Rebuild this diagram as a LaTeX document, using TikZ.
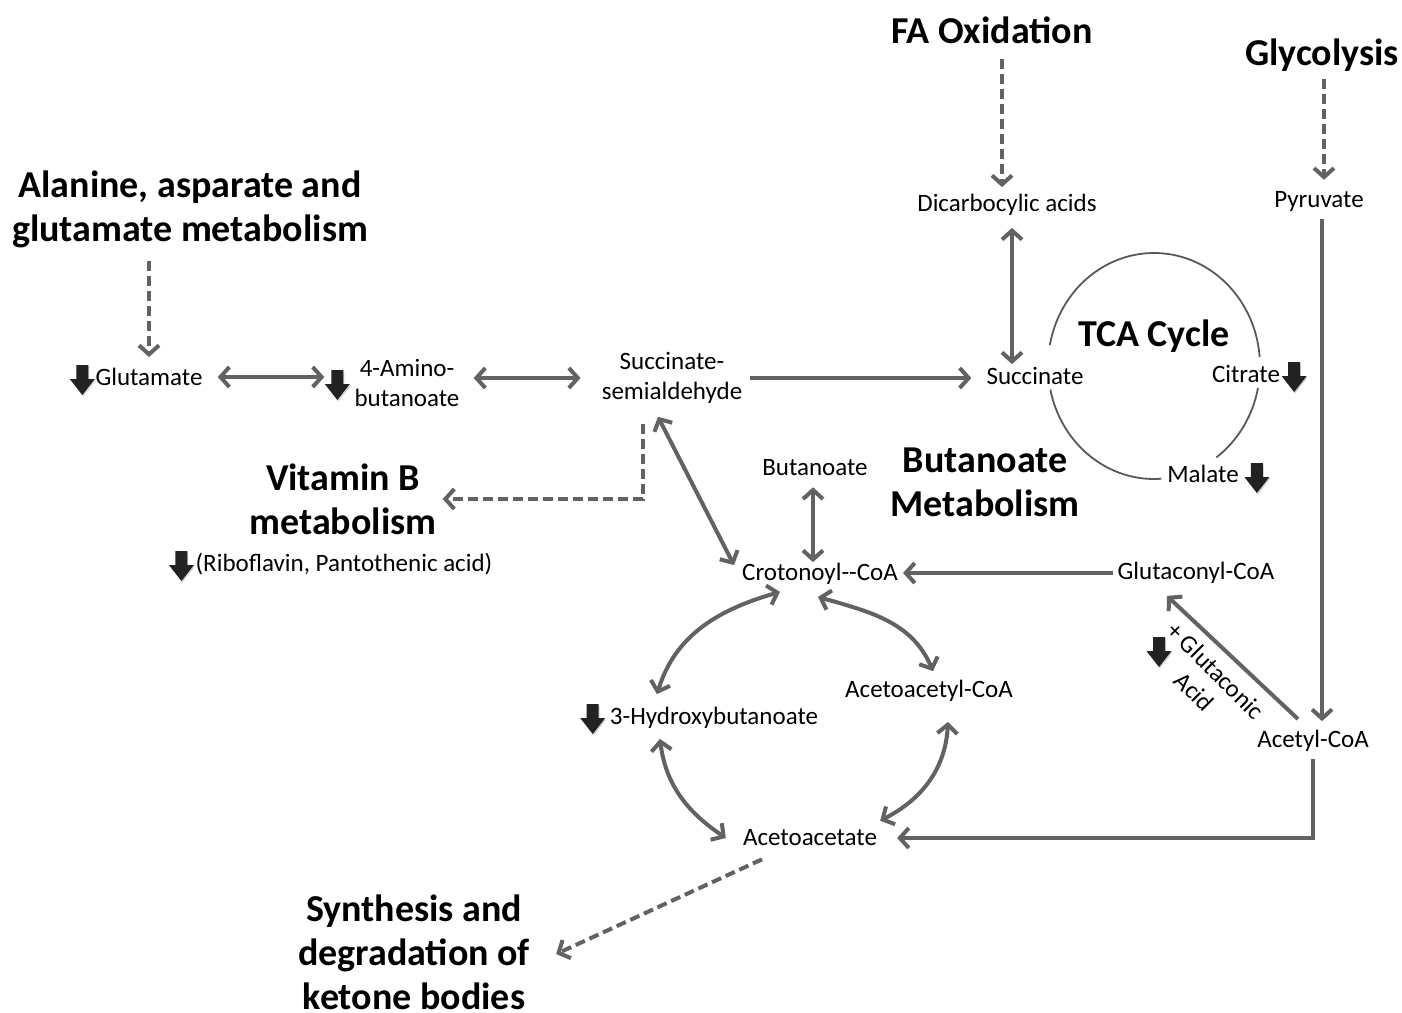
\documentclass[tikz,border=0pt]{standalone}
\usepackage{fontspec}
\setmainfont{Carlito}
\usepackage{tikz}
\usetikzlibrary{arrows.meta,positioning,calc,shadows}

\definecolor{arrowgray}{RGB}{98,98,98}
\definecolor{cyclegray}{RGB}{88,88,88}
\definecolor{downblack}{RGB}{34,34,34}

\tikzset{
  lbl/.style={inner sep=0pt,font=\fontsize{25}{30}\selectfont,align=center},
  head/.style={inner sep=0pt,font=\fontsize{38}{44}\selectfont\bfseries,align=center},
  flow/.style={draw=arrowgray,line width=4pt,-{Straight Barb[length=9pt,width=20pt]}},
  dbl/.style={flow,{Straight Barb[length=9pt,width=20pt]}-{Straight Barb[length=9pt,width=20pt]}},
  dflow/.style={flow,dash pattern=on 10pt off 5pt},
  pics/dnarrow/.style={code={
    \fill[downblack,drop shadow={opacity=0.35,shadow xshift=1pt,shadow yshift=-1.5pt}]
      (-6,15) -- (6,15) -- (6,1) -- (12.5,1) -- (0,-15) -- (-12.5,1) -- (-6,1) -- cycle;}}
}

\begin{document}
\begin{tikzpicture}[x=1pt,y=1pt]
  \useasboundingbox (0,0) rectangle (1402,-1012);

  \node[head] (fa) at (992,-30) {FA Oxidation};
  \node[head] (glyc) at (1322,-55) {Glycolysis};
  \node[head] (ala) at (190,-209) {Alanine, asparate and\\glutamate metabolism};
  \node[head] (vitb) at (343,-499) {Vitamin B\\metabolism};
  \node[head] (butm) at (985,-482) {Butanoate\\Metabolism};
  \node[head] (tcal) at (1154,-336) {TCA Cycle};
  \node[head] (keto) at (414,-952) {Synthesis and\\degradation of\\ketone bodies};

  \node[lbl] (glu) at (149,-377) {Glutamate};
  \node[lbl] (amino) at (407,-383) {4-Amino-\\butanoate};
  \node[lbl] (ssa) at (672,-378) {Succinate-\\semialdehyde};
  \node[lbl] (succ) at (1035,-376) {Succinate};
  \node[lbl] (dica) at (1007,-205) {Dicarbocylic acids};
  \node[lbl] (pyr) at (1319,-201) {Pyruvate};
  \node[lbl] (citr) at (1246,-374) {Citrate};
  \node[lbl] (mal) at (1203,-474) {Malate};
  \node[lbl] (buta) at (815,-468) {Butanoate};
  \node[lbl] (crot) at (820,-574) {Crotonoyl-{}-CoA};
  \node[lbl] (glcoa) at (1196,-573) {Glutaconyl-CoA};
  \node[lbl] (acoa) at (1313,-741) {Acetyl-CoA};
  \node[lbl] (aacoa) at (929,-691) {Acetoacetyl-CoA};
  \node[lbl] (hyd) at (714,-718) {3-Hydroxybutanoate};
  \node[lbl] (aac) at (810,-838) {Acetoacetate};
  \node[lbl] (ribo) at (344,-564) {(Riboflavin, Pantothenic acid)};
  \node[lbl,rotate=-45] (gacid) at (1205,-681) {+ Glutaconic\\Acid};

  \coordinate (tca) at (1154,-366);
  \draw[cyclegray,line width=1.8pt] (tca) ++(4.6:106 and 113)
    arc[start angle=4.6,end angle=169.3,x radius=106,y radius=113];
  \draw[cyclegray,line width=1.8pt] (tca) ++(-167.9:106 and 113)
    arc[start angle=-167.9,end angle=-86,x radius=106,y radius=113];
  \draw[cyclegray,line width=1.8pt] (tca) ++(-54:106 and 113)
    arc[start angle=-54,end angle=-11.2,x radius=106,y radius=113];

  \pic at ([xshift=-13pt,yshift=-3pt]glu.west) {dnarrow};
  \pic at ([xshift=-17pt,yshift=-2pt]amino.west) {dnarrow};
  \pic at ([xshift=-17pt,yshift=-1pt]hyd.west) {dnarrow};
  \pic at ([xshift=-14pt,yshift=-2pt]ribo.west) {dnarrow};
  \pic at ([xshift=14pt,yshift=-3pt]citr.east) {dnarrow};
  \pic at ([xshift=18pt,yshift=-4pt]mal.east) {dnarrow};
  \pic at (1159,-652) {dnarrow};

  \draw[dflow,shorten <=13pt,shorten >=11pt] (ala.south -| glu.north) -- (glu.north);
  \draw[dbl,shorten <=15pt,shorten >=30pt] (glu.east) -- (glu.east -| amino.west);
  \draw[dbl,shorten <=14pt,shorten >=21pt] (amino.east |- ssa) -- (ssa.west);
  \draw[flow,shorten <=8pt,shorten >=15pt] (ssa.east) -- (ssa.east -| succ.west);
  \draw[dflow,shorten <=15pt,shorten >=7pt] ([xshift=10pt]fa.south) -- ([xshift=-5pt]dica.north);
  \draw[dbl,shorten <=12pt,shorten >=3pt] ([xshift=5pt]dica.south) -- ([xshift=-23pt]succ.north);
  \draw[dflow,shorten <=7pt,shorten >=11pt] ([xshift=2pt]glyc.south) -- ([xshift=5pt]pyr.north);
  \draw[flow,shorten <=8pt,shorten >=9pt] ([xshift=3pt]pyr.south) -- ([xshift=9pt]acoa.north);
  \draw[flow,shorten <=5pt,shorten >=5pt] (glcoa.west) -- (glcoa.west -| crot.east);
  \draw[flow] ([xshift=-15pt,yshift=11pt]acoa.north) -- ([xshift=-29pt,yshift=-12pt]glcoa.south);
  \draw[flow,shorten <=7pt,shorten >=20pt] (acoa.south) |- (aac.east);
  \draw[dbl] ([xshift=-14pt,yshift=-13pt]ssa.south) -- ([xshift=-8pt,yshift=-2pt]crot.north west);
  \draw[dflow,shorten <=20pt,shorten >=6pt] ([xshift=-29pt]ssa.south) |- (vitb.east);
  \draw[dbl,shorten <=11pt,shorten >=1pt] ([xshift=-2pt]buta.south) -- ([xshift=-7pt]crot.north);

  \draw[dbl] ([xshift=-40pt,yshift=-7pt]crot.south) to[out=196,in=73] ([xshift=-57pt,yshift=13pt]hyd.north);
  \draw[dbl] ([xshift=-2pt,yshift=-12pt]crot.south) to[out=-16,in=113] ([xshift=4pt,yshift=9pt]aacoa.north);
  \draw[dbl] ([xshift=-54pt,yshift=-10pt]hyd.south) to[out=-83,in=146] ([xshift=-17pt]aac.west);
  \draw[dbl] ([xshift=19pt,yshift=-20pt]aacoa.south) to[out=-93,in=27] ([xshift=3pt,yshift=9pt]aac.north east);

  \draw[dflow] ([xshift=-48pt,yshift=-13pt]aac.south) -- ([xshift=26pt,yshift=-2pt]keto.east);
\end{tikzpicture}
\end{document}
